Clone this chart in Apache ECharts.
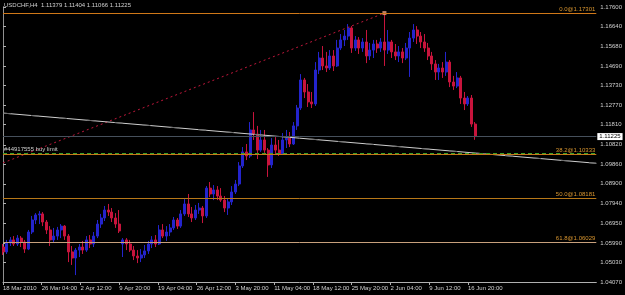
<!DOCTYPE html>
<html><head><meta charset="utf-8">
<script src="https://cdn.jsdelivr.net/npm/echarts@6/dist/echarts.min.js"></script>
<style>html,body{margin:0;padding:0;background:#000;}#c{width:625px;height:295px;}</style>
</head><body><div id="c"></div>
<script>
const titleText = 'USDCHF,H4  1.11379 1.11404 1.11066 1.11225';
const barStep = 3; // H4 bars per plotted bar

const opens = [
1.0579,1.0555,1.0599,1.0614,1.0594,1.0623,1.0604,1.0569,1.0653,1.0712,
1.0737,1.0742,1.0702,1.0663,1.0614,1.0633,1.0663,1.0682,1.0633,1.0555,
1.0525,1.0564,1.0579,1.0564,1.0614,1.0594,1.0633,1.0692,1.0722,1.0761,
1.0751,1.0722,1.0692,1.0594,1.0614,1.0594,1.0564,1.0535,1.0525,1.0540,
1.0560,1.0594,1.0614,1.0594,1.0663,1.0633,1.0653,1.0673,1.0712,1.0682,
1.0742,1.0791,1.0742,1.0722,1.0761,1.0771,1.0732,1.0869,1.0840,1.0860,
1.0830,1.0810,1.0771,1.0801,1.0850,1.0889,1.0978,1.1047,1.1027,1.1155,
1.1135,1.1056,1.1106,1.1056,1.0983,1.1081,1.1056,1.1037,1.1106,1.1115,
1.1086,1.1175,1.1263,1.1401,1.1342,1.1293,1.1283,1.1450,1.1509,1.1470,
1.1460,1.1519,1.1470,1.1558,1.1598,1.1617,1.1657,1.1558,1.1598,1.1558,
1.1588,1.1519,1.1548,1.1578,1.1558,1.1588,1.1548,1.1588,1.1539,1.1519,
1.1539,1.1509,1.1558,1.1607,1.1647,1.1617,1.1588,1.1558,1.1519,1.1480,
1.1440,1.1460,1.1440,1.1489,1.1391,1.1371,1.1411,1.1312,1.1283,1.1312,
1.1184];
const closes = [
1.0555,1.0599,1.0614,1.0594,1.0623,1.0604,1.0569,1.0653,1.0712,1.0737,
1.0742,1.0702,1.0663,1.0614,1.0633,1.0663,1.0682,1.0633,1.0555,1.0525,
1.0564,1.0579,1.0564,1.0614,1.0594,1.0633,1.0692,1.0722,1.0761,1.0751,
1.0722,1.0692,1.0658,1.0614,1.0594,1.0564,1.0535,1.0525,1.0540,1.0560,
1.0594,1.0614,1.0594,1.0663,1.0633,1.0653,1.0673,1.0712,1.0682,1.0742,
1.0791,1.0742,1.0722,1.0761,1.0771,1.0732,1.0869,1.0840,1.0860,1.0830,
1.0810,1.0771,1.0801,1.0850,1.0889,1.0978,1.1047,1.1027,1.1155,1.1135,
1.1056,1.1106,1.1056,1.0983,1.1081,1.1056,1.1037,1.1106,1.1115,1.1086,
1.1175,1.1263,1.1401,1.1342,1.1293,1.1283,1.1450,1.1509,1.1470,1.1460,
1.1519,1.1470,1.1558,1.1598,1.1617,1.1657,1.1558,1.1598,1.1558,1.1588,
1.1519,1.1548,1.1578,1.1558,1.1588,1.1548,1.1588,1.1539,1.1519,1.1539,
1.1509,1.1558,1.1607,1.1647,1.1617,1.1588,1.1558,1.1519,1.1480,1.1440,
1.1460,1.1440,1.1489,1.1391,1.1371,1.1411,1.1312,1.1283,1.1312,1.1184,
1.11225];
const lows = [
1.0540,1.0545,1.0584,1.0584,1.0584,1.0579,1.0550,1.0564,1.0643,1.0692,
1.0692,1.0682,1.0643,1.0584,1.0599,1.0614,1.0623,1.0614,1.0505,1.0491,
1.0441,1.0530,1.0545,1.0555,1.0574,1.0579,1.0623,1.0673,1.0707,1.0732,
1.0702,1.0673,1.0648,1.0530,1.0564,1.0555,1.0515,1.0500,1.0505,1.0525,
1.0545,1.0574,1.0579,1.0589,1.0623,1.0609,1.0633,1.0663,1.0668,1.0673,
1.0732,1.0727,1.0702,1.0712,1.0742,1.0697,1.0722,1.0825,1.0810,1.0810,
1.0801,1.0751,1.0737,1.0786,1.0840,1.0879,1.0968,1.1007,1.1017,1.1106,
1.1012,1.1047,1.1042,1.0924,1.0968,1.1037,1.1027,1.1032,1.1066,1.1071,
1.1081,1.1155,1.1253,1.1312,1.1268,1.1263,1.1273,1.1430,1.1450,1.1440,
1.1450,1.1445,1.1465,1.1548,1.1568,1.1598,1.1534,1.1544,1.1529,1.1539,
1.1484,1.1499,1.1509,1.1534,1.1539,1.1470,1.1529,1.1509,1.1499,1.1489,
1.1484,1.1499,1.1416,1.1588,1.1578,1.1558,1.1539,1.1499,1.1450,1.1401,
1.1401,1.1411,1.1421,1.1366,1.1352,1.1361,1.1283,1.1253,1.1273,1.1170,
1.11066];
const highs = [
1.0594,1.0614,1.0628,1.0633,1.0638,1.0633,1.0614,1.0663,1.0732,1.0746,
1.0756,1.0751,1.0712,1.0682,1.0673,1.0678,1.0692,1.0687,1.0643,1.0584,
1.0574,1.0594,1.0609,1.0633,1.0638,1.0653,1.0712,1.0742,1.0781,1.0791,
1.0771,1.0746,1.0761,1.0623,1.0623,1.0614,1.0584,1.0564,1.0569,1.0589,
1.0609,1.0633,1.0638,1.0687,1.0692,1.0682,1.0692,1.0727,1.0722,1.0761,
1.0815,1.0840,1.0776,1.0786,1.0796,1.0781,1.0879,1.0899,1.0884,1.0879,
1.0869,1.0830,1.0820,1.0879,1.0909,1.0997,1.1071,1.1086,1.1194,1.1243,
1.1175,1.1155,1.1155,1.1066,1.1115,1.1120,1.1106,1.1140,1.1155,1.1145,
1.1194,1.1278,1.1430,1.1411,1.1381,1.1342,1.1489,1.1539,1.1568,1.1539,
1.1548,1.1548,1.1598,1.1627,1.1647,1.1676,1.1666,1.1617,1.1612,1.1607,
1.1647,1.1583,1.1598,1.1598,1.1607,1.17301,1.1647,1.1598,1.1578,1.1568,
1.1558,1.1583,1.1637,1.1676,1.1666,1.1637,1.1627,1.1583,1.1539,1.1499,
1.1480,1.1489,1.1539,1.1499,1.1421,1.1440,1.1421,1.1342,1.1322,1.1327,
1.1194];

const timeTickIndex = [0,32,64,96,128,160,192,224,256,288,320,352,384];
const timeTickLabels = ['18 Mar 2010','26 Mar 04:00','2 Apr 12:00','9 Apr 20:00','19 Apr 04:00','26 Apr 12:00','3 May 20:00','11 May 04:00','18 May 12:00','25 May 20:00','2 Jun 04:00','9 Jun 12:00','16 Jun 20:00'];
const priceTicks = [1.17600,1.16640,1.15680,1.14690,1.13730,1.12770,1.11810,1.10820,1.09860,1.08900,1.07940,1.06950,1.05990,1.05030,1.04070];

const fibLevels = ['0.0','38.2','50.0','61.8'];
const fibPrices = [1.17301,1.10333,1.08181,1.06029];
const buyLimitPrice = 1.1040;
const buyLimitText = '#44917555 buy limit';
const lastPrice = 1.11225;
const fiboTrendX = [0, 315];
const fiboTrendP = [1.0993, 1.17301];
const trendX = [0, 490];
const trendP = [1.1238, 1.0991];

const FONT = 'Liberation Sans';
const FS = 6;
const BULL = '#2424cc', BEAR = '#c8143c';

const candles = opens.map((o, i) => [i * barStep, o, closes[i], lows[i], highs[i]]);

const fibColors = ['#d07818', '#c87818', '#b87818', '#c8a07c'];
const markData = fibLevels.map((lv, i) => ({
  yAxis: fibPrices[i],
  lineStyle: { color: fibColors[i], type: 'solid', width: 1 },
  label: { show: true, position: 'insideEndTop', distance: 1, formatter: lv + '@' + fibPrices[i].toFixed(5),
           color: '#d8952f', fontSize: FS, fontFamily: FONT }
}));
markData.push({
  yAxis: buyLimitPrice,
  lineStyle: { color: '#3aa02a', type: [4, 3], width: 1 },
  label: { show: true, position: 'insideStartTop', distance: 1, formatter: buyLimitText,
           color: '#d0d0d0', fontSize: FS, fontFamily: FONT }
});
markData.push({
  yAxis: lastPrice,
  lineStyle: { color: '#46505c', type: 'solid', width: 1 },
  label: { show: true, position: 'end', distance: 1, formatter: lastPrice.toFixed(5),
           backgroundColor: '#ffffff', color: '#000000', padding: [1, 2, 0, 2], fontSize: FS, fontFamily: FONT }
});

const chart = echarts.init(document.getElementById('c'));
chart.setOption({
  backgroundColor: '#000000',
  animation: false,
  title: { text: titleText, left: 4, top: 2, padding: 0,
           textStyle: { color: '#d0d0d0', fontSize: FS, fontWeight: 'normal', fontFamily: FONT } },
  grid: { left: 3, right: 25, top: 7, bottom: 13 },
  xAxis: {
    type: 'value', min: 0, max: 490,
    axisLine: { show: true, lineStyle: { color: '#b0b0b0' } },
    axisTick: { show: true, customValues: timeTickIndex, length: 3, lineStyle: { color: '#b0b0b0' } },
    axisLabel: { customValues: timeTickIndex, formatter: v => timeTickLabels[timeTickIndex.indexOf(v)] || '',
                 align: 'left', color: '#d0d0d0', fontSize: FS, fontFamily: FONT, margin: 3 },
    splitLine: { show: false }
  },
  yAxis: [{
    type: 'value', position: 'right', min: 1.0407, max: 1.1760,
    axisLine: { show: true, lineStyle: { color: '#b0b0b0' } },
    axisTick: { show: true, customValues: priceTicks, length: 3, lineStyle: { color: '#b0b0b0' } },
    axisLabel: { customValues: priceTicks, formatter: v => v.toFixed(5), color: '#d0d0d0',
                 fontSize: FS, fontFamily: FONT, margin: 4 },
    splitLine: { show: false }
  }, {
    type: 'value', position: 'left', min: 1.0407, max: 1.1760,
    axisLine: { show: true, lineStyle: { color: '#909090' } },
    axisTick: { show: false }, axisLabel: { show: false }, splitLine: { show: false }
  }],
  series: [{
    type: 'candlestick', name: 'USDCHF', yAxisIndex: 0,
    data: candles,
    encode: { x: 0, y: [1, 2, 3, 4] },
    barWidth: 2.5,
    itemStyle: { color: BULL, color0: BEAR, borderColor: BULL, borderColor0: BEAR, borderWidth: 1 },
    markLine: { symbol: ['none', 'none'], silent: true, animation: false, precision: 5, data: markData },
    z: 2
  }, {
    type: 'line', name: 'fiboTrend', yAxisIndex: 0,
    data: fiboTrendX.map((x, i) => [x, fiboTrendP[i]]),
    symbol: 'none', lineStyle: { color: '#c0183c', width: 1, type: [2, 3] }, z: 3
  }, {
    type: 'scatter', name: 'anchor', yAxisIndex: 0,
    data: [[fiboTrendX[1], fiboTrendP[1]]],
    symbol: 'rect', symbolSize: 4, itemStyle: { color: '#f0a080' }, z: 4
  }, {
    type: 'line', name: 'trend', yAxisIndex: 0,
    data: trendX.map((x, i) => [x, trendP[i]]),
    symbol: 'none', lineStyle: { color: '#cfcfcf', width: 1 }, z: 3
  }, {
    type: 'line', name: 'trendDash', yAxisIndex: 0,
    data: trendX.map((x, i) => [x, trendP[i]]),
    symbol: 'none', lineStyle: { color: '#6a6a6a', width: 1, type: [8, 20] }, z: 3
  }]
});
</script></body></html>
